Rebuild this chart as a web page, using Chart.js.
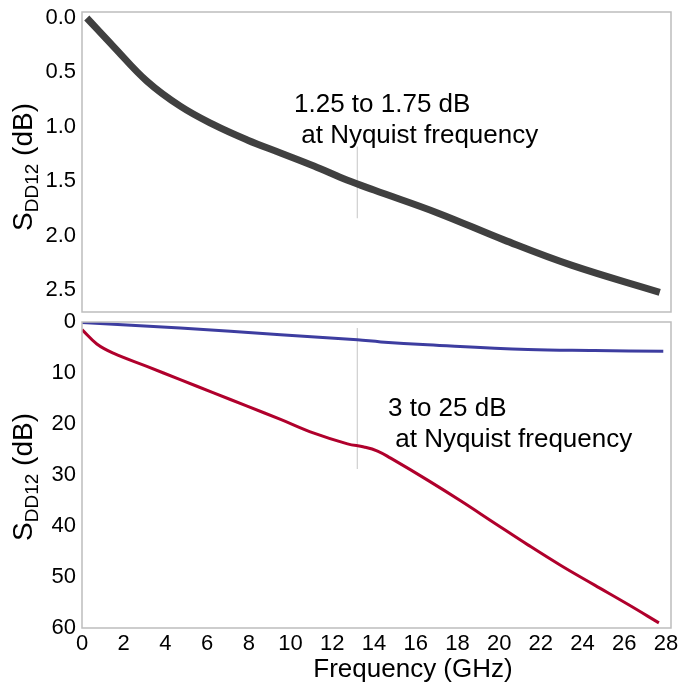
<!DOCTYPE html>
<html><head><meta charset="utf-8">
<script src="https://cdn.jsdelivr.net/npm/chart.js@4"></script>
<style>
html,body{margin:0;padding:0;background:#fff;}
#wrap{position:relative;width:683px;height:689px;overflow:hidden;font-family:"Liberation Sans",Arial,sans-serif;color:#000;}
#c1{position:absolute;left:0;top:0;}
#c2{position:absolute;left:0;top:300px;}
.ytitle{position:absolute;transform:translate(-50%,-50%) rotate(-90deg);font-size:28px;white-space:nowrap;}
.ytitle sub{font-size:19px;vertical-align:-6px;}
.note{position:absolute;font-size:26px;line-height:31px;white-space:pre;}
#xtitle{position:absolute;left:413px;top:668px;transform:translate(-50%,-50%);font-size:26px;white-space:nowrap;}
</style></head>
<body>
<div id="wrap">
<canvas id="c1" width="683" height="320"></canvas>
<canvas id="c2" width="683" height="389"></canvas>
<div class="ytitle" style="left:25px;top:167px;">S<sub>DD12</sub> (dB)</div>
<div class="ytitle" style="left:25px;top:477px;">S<sub>DD12</sub> (dB)</div>
<div class="note" style="left:294px;top:88px;">1.25 to 1.75 dB
 at Nyquist frequency</div>
<div class="note" style="left:388px;top:392px;">3 to 25 dB
 at Nyquist frequency</div>
<div id="xtitle">Frequency (GHz)</div>
</div>
<script>
// ---- data (GHz, dB) ----
const xTicks = [0,2,4,6,8,10,12,14,16,18,20,22,24,26,28];
const topTicks = [0.0,0.5,1.0,1.5,2.0,2.5];
const bottomTicks = [0,10,20,30,40,50,60];
const nyquistGHz = 13.2;

const topFreq = [0.23,1.5,3.11,4.71,6.31,7.92,9.52,11.12,12.73,14.0,17.05,20.25,23.46,27.7];
const topLoss = [0.0,0.26,0.58,0.81,0.98,1.12,1.24,1.36,1.49,1.58,1.79,2.04,2.27,2.52];

const blueFreq = [0,4.71,9.52,13.2,14.33,16.57,21.38,24.57,27.87];
const blueLoss = [0.1,1.2,2.5,3.5,3.9,4.45,5.4,5.6,5.75];

const redFreq = [0,0.71,1.5,3.11,4.71,6.31,7.92,9.52,11.12,12.73,13.52,14.17,14.8,16.57,18.17,19.77,21.38,22.98,24.58,26.19,27.66];
const redLoss = [1.5,4.3,6.1,8.7,11.3,13.9,16.5,19.1,21.8,23.9,24.5,25.3,26.7,31.0,35.1,39.4,43.7,47.8,51.6,55.4,59.0];

const topMarker = [1.18,1.84];
const bottomMarker = [1.2,28.8];

const pts = (xs, ys) => xs.map((x,i)=>({x:x, y:ys[i]}));

const FONT = "'Liberation Sans', Arial, sans-serif";
const X_MAX = 28.24;

const frame = {
  id:'frame',
  afterDraw(chart){
    const a = chart.chartArea, c = chart.ctx;
    c.save();
    c.strokeStyle = '#bdbdbd';
    c.lineWidth = 1.5;
    c.strokeRect(a.left, a.top, a.right-a.left, a.bottom-a.top);
    c.restore();
  }
};

function markerDs(ys){
  return {data: pts([nyquistGHz,nyquistGHz], ys), borderColor:'#cfcfcf', borderWidth:1.2, pointRadius:0, tension:0, order:5};
}

function yAxis(min,max,ticks,decimals){
  return {
    type:'linear', reverse:true, min:min, max:max,
    afterFit(s){ s.width = 82; s.paddingTop = 0; s.paddingBottom = 0; },
    afterBuildTicks(s){ s.ticks = ticks.map(v=>({value:v})); },
    grid:{display:false, drawTicks:false},
    border:{display:false},
    ticks:{color:'#000', padding:6, font:{family:FONT,size:22}, callback:v=>v.toFixed(decimals)}
  };
}

new Chart(document.getElementById('c1'), {
  type:'line',
  data:{datasets:[
    {data:pts(topFreq,topLoss), borderColor:'#404040', borderWidth:7, pointRadius:0, tension:0.4, borderCapStyle:'butt', order:1},
    markerDs(topMarker)
  ]},
  options:{
    responsive:false, animation:false, devicePixelRatio:1,
    layout:{padding:{top:12,right:12,left:0,bottom:8}},
    plugins:{legend:{display:false}, tooltip:{enabled:false}},
    scales:{
      x:{type:'linear', min:0, max:X_MAX, display:false},
      y:yAxis(-0.055,2.70,topTicks,1)
    }
  },
  plugins:[frame]
});

new Chart(document.getElementById('c2'), {
  type:'line',
  data:{datasets:[
    {data:pts(blueFreq,blueLoss), borderColor:'#3d3da0', borderWidth:3, pointRadius:0, tension:0.4, order:1},
    {data:pts(redFreq,redLoss), borderColor:'#b0002c', borderWidth:3, pointRadius:0, tension:0.4, order:1},
    markerDs(bottomMarker)
  ]},
  options:{
    responsive:false, animation:false, devicePixelRatio:1,
    layout:{padding:{top:22,right:12,left:0,bottom:0}},
    plugins:{legend:{display:false}, tooltip:{enabled:false}},
    scales:{
      x:{type:'linear', min:0, max:X_MAX,
        afterFit(s){ s.height = 61; s.paddingLeft = 0; s.paddingRight = 0; },
        afterBuildTicks(s){ s.ticks = xTicks.map(v=>({value:v})); },
        grid:{display:false, drawTicks:false}, border:{display:false},
        ticks:{color:'#000', padding:3, maxRotation:0, autoSkip:false, font:{family:FONT,size:22}}
      },
      y:yAxis(0,60,bottomTicks,0)
    }
  },
  plugins:[frame]
});
</script>
</body></html>
